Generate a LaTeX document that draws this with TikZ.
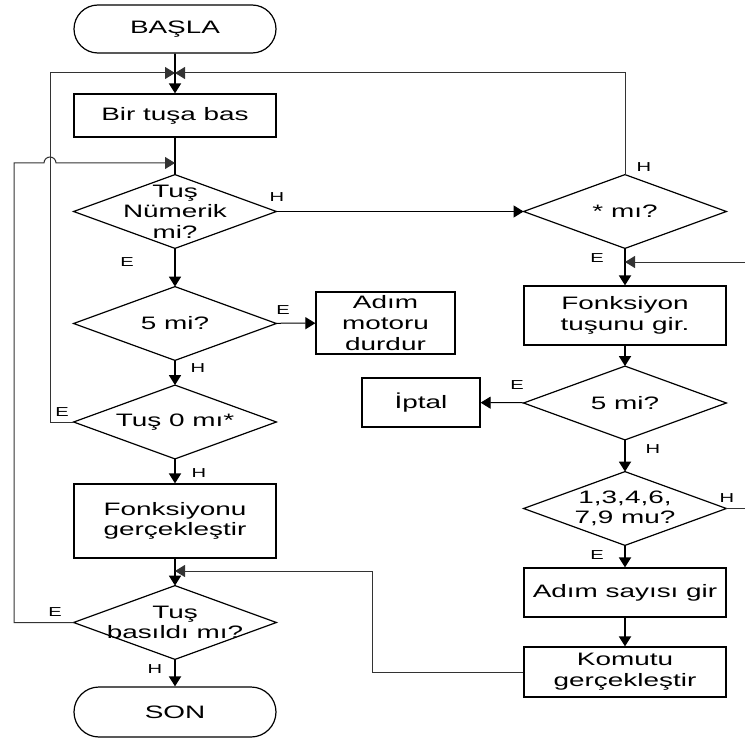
\documentclass[tikz,border=0pt]{standalone}
\usepackage{fontspec}
\setmainfont{Liberation Sans}[FakeStretch=1.55]
\usetikzlibrary{shapes.misc,arrows.meta,calc}

\begin{document}
\begin{tikzpicture}[x=0.5pt, y=-0.5pt,
    font=\fontsize{9}{10.3}\selectfont,
    terminal/.style={draw, line width=0.6pt, rounded rectangle,
      minimum width=101pt, minimum height=24pt, inner sep=0pt},
    process/.style={draw, line width=0.6pt, rectangle,
      minimum width=101pt, inner sep=0pt, align=center},
    decision/.style={inner sep=0pt, minimum width=101pt, minimum height=36.5pt, align=center,
      append after command={\pgfextra{\draw[line width=0.6pt] (\tikzlastnode.north) -- (\tikzlastnode.east)
        -- (\tikzlastnode.south) -- (\tikzlastnode.west) -- cycle;}}},
    line/.style={draw, line width=0.9pt},
    flow/.style={draw, line width=0.9pt, -{Triangle[length=5pt,width=6pt]}},
    side/.style={draw, line width=0.5pt, -{Triangle[length=5pt,width=6pt]}},
    back/.style={draw, line width=0.5pt, color=black!80, -{Triangle[length=5pt,width=6pt]}},
    tag/.style={font=\fontsize{6.5}{8}\selectfont, inner sep=0pt}
  ]
  \useasboundingbox (0,0) rectangle (745,738);

  % left column
  \node (basla) [terminal] at (175,29) {BAŞLA};
  \coordinate (j1) at (175,73);
  \node (bas) [process, minimum height=21.5pt] at (175,115.5) {Bir tuşa bas};
  \coordinate (j2) at (175,163);
  \node (numerik) [decision] at (175,211.5) {Tuş\\Nümerik\\mi?};
  \node (besmi) [decision] at (175,323.5) {5 mi?};
  \node (durdur) [process, minimum width=69.5pt, minimum height=31pt] at (385.5,323) {Adım\\motoru\\durdur};
  \node (sifir) [decision] at (175,422) {Tuş 0 mı*};
  \node (fonk) [process, minimum height=37pt] at (175,521) {Fonksiyonu\\gerçekleştir};
  \coordinate (j3) at (175,571);
  \node (basildi) [decision] at (175,622.5) {Tuş\\basıldı mı?};
  \node (son) [terminal, minimum height=25pt] at (175,712) {SON};

  % right column
  \node (yildiz) [decision] at (625,211.5) {* mı?};
  \coordinate (j4) at (625,262);
  \node (fgir) [process, minimum height=29.5pt] at (625,315.5) {Fonksiyon\\tuşunu gir.};
  \node (besmi2) [decision] at (625,403) {5 mi?};
  \node (iptal) [process, minimum width=59pt, minimum height=24.5pt] at (421,402.5) {İptal};
  \node (rakam) [decision] at (625,508.5) {1,3,4,6,\\7,9 mu?};
  \node (sayi) [process, minimum height=24.5pt] at (625,592.5) {Adım sayısı gir};
  \node (komut) [process, minimum height=25pt] at (625,672) {Komutu\\gerçekleştir};

  % loop corners and loose ends
  \coordinate (l1) at (50,73);
  \coordinate (l2) at (14,163);
  \coordinate (r1) at (372,571);
  \coordinate (in4) at (745,262);
  \coordinate (out5) at (745,508.5);

  {
      \draw[flow] (basla) -- (bas);
      \draw[line] (bas) -- (numerik);
      \draw[side] (numerik) -- (yildiz);
      \draw[flow] (numerik) -- (besmi);
      \draw[side] (besmi) -- (durdur);
      \draw[flow] (besmi) -- (sifir);
      \draw[flow] (sifir) -- (fonk);
      \draw[flow] (fonk) -- (basildi);
      \draw[flow] (basildi) -- (son);

      \draw[back] (sifir.west) -| (l1) -- (j1);
      \draw[back] (yildiz.north) |- (j1);
      \draw[back] (basildi.west) -| (l2) -- ($(l1|-j2)+(-6,0)$)
        arc[start angle=180, end angle=0, radius=3pt] -- (j2);
      \draw[back] (komut.west) -| (r1) -- (j3);

      \draw[flow] (yildiz) -- (fgir);
      \draw[back] (in4) -- (j4);
      \draw[flow] (fgir) -- (besmi2);
      \draw[side] (besmi2) -- (iptal);
      \draw[flow] (besmi2) -- (rakam);
      \draw[line width=0.5pt, color=black!80] (rakam.east) -- (out5);
      \draw[flow] (rakam) -- (sayi);
      \draw[flow] (sayi) -- (komut);
  };

  % yes / no marks
  \node (t1) [tag] at (277,197) {H};
  \node (t2) [tag] at (127,262) {E};
  \node (t3) [tag] at (283,310) {E};
  \node (t4) [tag] at (198,368) {H};
  \node (t5) [tag] at (62,412) {E};
  \node (t6) [tag] at (199,473) {H};
  \node (t7) [tag] at (55,612) {E};
  \node (t8) [tag] at (155,669) {H};
  \node (t9) [tag] at (644,167) {H};
  \node (t10) [tag] at (597,258) {E};
  \node (t11) [tag] at (517,385) {E};
  \node (t12) [tag] at (653,449) {H};
  \node (t13) [tag] at (727,498) {H};
  \node (t14) [tag] at (597,555) {E};
\end{tikzpicture}
\end{document}
